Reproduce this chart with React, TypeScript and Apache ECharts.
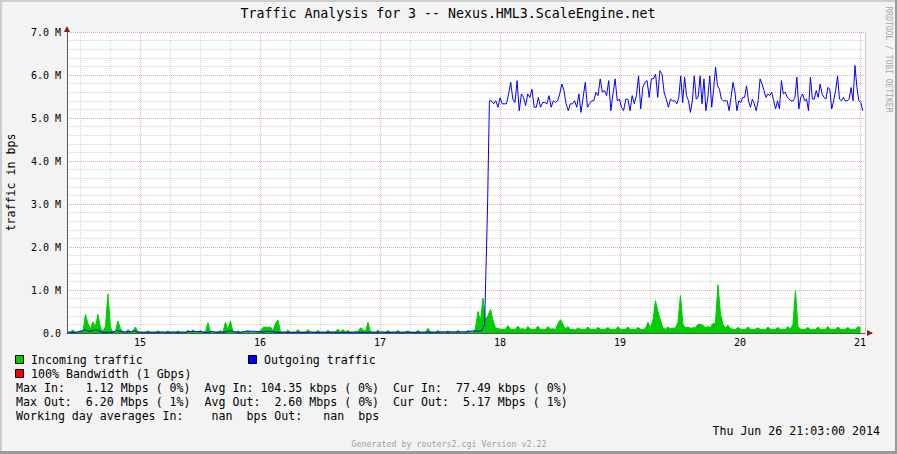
import React, { useEffect, useRef } from "react";
import * as echarts from "echarts";

// ---------- texts ----------
const TITLE = "Traffic Analysis for 3 -- Nexus.HML3.ScaleEngine.net";
const Y_AXIS_NAME = "traffic in bps";
const SIDE_TEXT = "RRDTOOL / TOBI OETIKER";
const LEGEND_IN = "Incoming traffic";
const LEGEND_OUT = "Outgoing traffic";
const LEGEND_BW = "100% Bandwidth (1 Gbps)";
const STAT_LINES = [
  "Max In:   1.12 Mbps ( 0%)  Avg In: 104.35 kbps ( 0%)  Cur In:  77.49 kbps ( 0%)",
  "Max Out:  6.20 Mbps ( 1%)  Avg Out:  2.60 Mbps ( 0%)  Cur Out:  5.17 Mbps ( 1%)",
  "Working day averages In:    nan  bps Out:   nan  bps",
];
const DATE_TEXT = "Thu Jun 26 21:03:00 2014";
const FOOTER = "Generated by routers2.cgi Version v2.22";

// ---------- axes ----------
const DAY_LABELS = [15, 16, 17, 18, 19, 20, 21];
const X_MIN = 14.392;
const X_MAX = 21.042;
const Y_MIN = 0;
const Y_MAX = 7;

// ---------- data (values in Mbps, days of June 2014) ----------
const IN_START = 14.4;
const IN_END = 21.004;
const incomingTraffic = [
  0.02, 0.03, 0.07, 0.02, 0.02, 0.06, 0.03, 0.43, 0.22, 0.1,
  0.26, 0.15, 0.43, 0.12, 0.04, 0.15, 0.91, 0.12, 0.03, 0.04,
  0.28, 0.1, 0.03, 0.02, 0.08, 0.03, 0.04, 0.14, 0.03, 0.02,
  0.02, 0.02, 0.05, 0.02, 0.02, 0.02, 0.05, 0.02, 0.02, 0.02,
  0.05, 0.02, 0.02, 0.02, 0.05, 0.02, 0.02, 0.02, 0.06, 0.03,
  0.07, 0.02, 0.02, 0.06, 0.02, 0.03, 0.24, 0.03, 0.02, 0.02,
  0.03, 0.05, 0.02, 0.25, 0.08, 0.28, 0.03, 0.02, 0.05, 0.02,
  0.02, 0.02, 0.05, 0.02, 0.02, 0.02, 0.03, 0.05, 0.13, 0.14,
  0.13, 0.14, 0.05, 0.22, 0.3, 0.03, 0.02, 0.02, 0.07, 0.02,
  0.02, 0.02, 0.08, 0.02, 0.02, 0.02, 0.08, 0.02, 0.02, 0.02,
  0.06, 0.02, 0.02, 0.02, 0.06, 0.02, 0.02, 0.03, 0.09, 0.02,
  0.08, 0.02, 0.06, 0.02, 0.02, 0.02, 0.03, 0.12, 0.08, 0.03,
  0.25, 0.03, 0.02, 0.02, 0.07, 0.02, 0.02, 0.02, 0.06, 0.02,
  0.02, 0.02, 0.06, 0.02, 0.02, 0.02, 0.05, 0.02, 0.02, 0.02,
  0.06, 0.02, 0.02, 0.02, 0.11, 0.03, 0.02, 0.02, 0.06, 0.02,
  0.02, 0.02, 0.05, 0.02, 0.02, 0.02, 0.06, 0.02, 0.02, 0.02,
  0.06, 0.02, 0.03, 0.1, 0.5, 0.28, 0.81, 0.3, 0.4, 0.55,
  0.3, 0.12, 0.1, 0.09, 0.08, 0.09, 0.17, 0.09, 0.08, 0.09,
  0.16, 0.09, 0.1, 0.08, 0.15, 0.09, 0.08, 0.09, 0.16, 0.08,
  0.09, 0.08, 0.15, 0.09, 0.1, 0.08, 0.22, 0.31, 0.2, 0.09,
  0.15, 0.08, 0.09, 0.07, 0.12, 0.09, 0.08, 0.09, 0.14, 0.08,
  0.09, 0.08, 0.13, 0.09, 0.08, 0.09, 0.13, 0.08, 0.09, 0.08,
  0.15, 0.09, 0.08, 0.09, 0.14, 0.08, 0.09, 0.08, 0.13, 0.09,
  0.08, 0.1, 0.25, 0.12, 0.3, 0.75, 0.5, 0.3, 0.12, 0.09,
  0.14, 0.1, 0.11, 0.12, 0.25, 0.87, 0.2, 0.12, 0.14, 0.11,
  0.12, 0.13, 0.2, 0.2, 0.18, 0.12, 0.15, 0.13, 0.22, 0.22,
  1.12, 0.45, 0.2, 0.12, 0.18, 0.1, 0.09, 0.08, 0.13, 0.09,
  0.08, 0.09, 0.14, 0.09, 0.08, 0.09, 0.12, 0.08, 0.09, 0.08,
  0.14, 0.09, 0.08, 0.09, 0.13, 0.08, 0.09, 0.08, 0.15, 0.09,
  0.2, 0.98, 0.15, 0.09, 0.08, 0.09, 0.13, 0.08, 0.09, 0.08,
  0.14, 0.09, 0.08, 0.09, 0.15, 0.08, 0.09, 0.08, 0.14, 0.09,
  0.08, 0.09, 0.13, 0.08, 0.09, 0.08, 0.15, 0.12,
];

const OUT_PRE_START = 14.405;
const OUT_PRE_END = 17.897;
const outgoingBefore = [
  0.015, 0.015, 0.015, 0.02, 0.03, 0.07, 0.06, 0.04, 0.05, 0.08,
  0.05, 0.02, 0.015, 0.02, 0.015, 0.02, 0.06, 0.04, 0.03, 0.02,
  0.03, 0.03, 0.06, 0.02, 0.015, 0.015, 0.015, 0.02, 0.015, 0.015,
  0.015, 0.025, 0.015, 0.015, 0.015, 0.025, 0.015, 0.015, 0.02, 0.015,
  0.035, 0.03, 0.04, 0.03, 0.035, 0.02, 0.015, 0.02, 0.04, 0.02,
  0.015, 0.03, 0.015, 0.04, 0.05, 0.04, 0.02, 0.015, 0.02, 0.04,
  0.045, 0.04, 0.04, 0.03, 0.03, 0.02, 0.035, 0.04, 0.03, 0.02,
  0.015, 0.015, 0.02, 0.015, 0.015, 0.015, 0.015, 0.02, 0.015, 0.015,
  0.015, 0.025, 0.015, 0.015, 0.015, 0.02, 0.015, 0.015, 0.025, 0.015,
  0.015, 0.015, 0.02, 0.015, 0.015, 0.015, 0.025, 0.015, 0.015, 0.015,
  0.015, 0.02, 0.015, 0.015, 0.015, 0.025, 0.015, 0.015, 0.015, 0.02,
  0.015, 0.015, 0.015, 0.025, 0.015, 0.015, 0.015, 0.02, 0.015, 0.015,
  0.025, 0.015, 0.015, 0.02, 0.02, 0.025, 0.025, 0.02, 0.025, 0.025,
  0.02, 0.03, 0.025, 0.025, 0.04, 0.045, 0.045, 0.045, 0.05, 0.19,
  3.0,
];

const OUT_A_START = 17.912;
const OUT_A_END = 19.439;
const outgoingAfterA = [
  5.40, 5.40, 5.33, 5.40, 5.25, 5.47, 5.33, 5.33, 5.33, 5.56,
  5.83, 5.44, 5.36, 5.87, 5.17, 5.56, 5.48, 5.29, 5.56, 5.48,
  5.67, 5.25, 5.25, 5.48, 5.25, 5.36, 5.36, 5.33, 5.52, 5.25,
  5.40, 5.36, 5.40, 5.56, 5.79, 5.64, 5.33, 5.17, 5.33, 5.33,
  5.40, 5.25, 5.56, 5.13, 5.48, 5.83, 5.25, 5.33, 5.40, 5.40,
  5.60, 5.52, 5.91, 5.60, 5.64, 5.52, 5.87, 5.17, 5.56, 5.91,
  5.40, 5.44, 5.25, 5.17, 5.44, 5.44, 5.17, 5.52, 5.33, 5.52,
  5.98, 5.21, 5.71, 5.83, 5.87, 5.48, 5.91, 5.91, 6.02, 5.48,
  6.10, 6.02, 5.60, 5.44, 5.25, 5.44, 5.40,
];

const OUT_B_START = 19.458;
const OUT_B_END = 21.023;
const outgoingAfterB = [
  5.40, 5.33, 5.48, 5.98, 5.36, 5.95, 5.52, 5.40, 5.13, 5.40,
  5.98, 5.44, 5.48, 5.98, 5.33, 5.91, 5.17, 5.48, 5.98, 5.25,
  5.67, 6.18, 5.75, 5.67, 5.44, 5.40, 5.40, 5.40, 5.17, 5.48,
  5.83, 5.60, 5.17, 5.40, 5.36, 5.48, 5.48, 5.75, 5.40, 5.25,
  5.44, 5.33, 5.17, 5.40, 5.91, 5.79, 5.64, 5.48, 5.56, 5.52,
  5.60, 5.40, 5.21, 5.40, 5.21, 5.87, 5.56, 5.60, 5.48, 5.44,
  5.40, 5.40, 5.48, 5.95, 5.21, 5.48, 5.56, 5.40, 5.44, 5.17,
  5.95, 5.44, 5.44, 5.64, 5.48, 5.79, 5.56, 5.48, 5.44, 5.71,
  5.67, 5.21, 5.40, 5.64, 5.98, 5.44, 5.40, 5.48, 5.40, 5.40,
  5.44, 5.71, 5.40, 6.22, 5.71, 5.40, 5.36, 5.17,
];

// ---------- styling ----------
const MONO = "'DejaVu Sans Mono', monospace";
const BG = "#f3f3f3";
const GREEN = "#00cc00";
const BLUE = "#0000ff";
const RED = "#ff0000";
const GRID_GREY = "#d4d4d4";
const GRID_RED = "#eaa3a3";
const AXIS_COL = "#555555";
const ARROW_COL = "#8b1a1a";
const LEGEND_SIZE = 11.6;
const CW = LEGEND_SIZE * 0.602;

function spread(start: number, end: number, values: number[]): number[][] {
  const n = values.length;
  return values.map((v, i) => [start + (i * (end - start)) / (n - 1), v]);
}

function monoRuns(str: string, x0: number, y: number): any[] {
  const out: any[] = [];
  const re = /\S+(?: \S+)*/g;
  let m: RegExpExecArray | null;
  while ((m = re.exec(str)) !== null) {
    out.push({
      type: "text",
      x: x0 + m.index * CW,
      y,
      silent: true,
      style: {
        text: m[0],
        fontFamily: MONO,
        fontSize: LEGEND_SIZE,
        fill: "#000",
        align: "left",
        verticalAlign: "middle",
      },
    });
  }
  return out;
}

function box(x: number, y: number, color: string) {
  return {
    type: "rect",
    silent: true,
    shape: { x: x + 0.5, y: y + 0.5, width: 8, height: 8 },
    style: { fill: color, stroke: "#000", lineWidth: 1 },
  };
}

export default function App() {
  const ref = useRef<HTMLDivElement>(null);

  useEffect(() => {
    if (!ref.current) return;
    const chart = echarts.init(ref.current, undefined, { renderer: "svg" });

    const inData = spread(IN_START, IN_END, incomingTraffic);
    const outData = [
      ...spread(OUT_PRE_START, OUT_PRE_END, outgoingBefore),
      ...spread(OUT_A_START, OUT_A_END, outgoingAfterA),
      ...spread(OUT_B_START, OUT_B_END, outgoingAfterB),
    ];

    const quarterLines: number[] = [];
    for (let q = Math.ceil(X_MIN * 4); q <= Math.floor(X_MAX * 4); q++) {
      if (q % 4 !== 0) quarterLines.push(q / 4);
    }

    const vLines: any[] = [
      ...quarterLines.map((v) => ({
        xAxis: v,
        lineStyle: { color: GRID_GREY, type: [1, 1], width: 1 },
      })),
      ...DAY_LABELS.map((v) => ({
        xAxis: v,
        lineStyle: { color: GRID_RED, type: [1, 1], width: 1 },
      })),
      { xAxis: X_MAX, lineStyle: { color: "#c8c8c8", type: "solid", width: 1 } },
    ];

    const graphics: any[] = [
      { type: "rect", silent: true, shape: { x: 0, y: 0, width: 897, height: 2 }, style: { fill: "#cdcdcd" } },
      { type: "rect", silent: true, shape: { x: 0, y: 0, width: 2, height: 454 }, style: { fill: "#cdcdcd" } },
      { type: "rect", silent: true, shape: { x: 0, y: 451, width: 897, height: 3 }, style: { fill: "#9a9a9a" } },
      { type: "rect", silent: true, shape: { x: 895, y: 0, width: 2, height: 454 }, style: { fill: "#9a9a9a" } },
      {
        type: "text", x: 448, y: 13.5, silent: true,
        style: { text: TITLE, fontFamily: MONO, fontSize: 13.25, fill: "#000", align: "center", verticalAlign: "middle" },
      },
      {
        type: "text", x: 888, y: 59.5, rotation: -Math.PI / 2, silent: true,
        style: { text: SIDE_TEXT, fontFamily: MONO, fontSize: 8, fill: "#a8a8a8", align: "center", verticalAlign: "middle" },
      },
      { type: "polygon", silent: true, shape: { points: [[64, 32], [70, 32], [67, 26]] }, style: { fill: ARROW_COL } },
      { type: "polygon", silent: true, shape: { points: [[867, 330], [867, 336], [873, 333]] }, style: { fill: ARROW_COL } },
      box(15, 355, GREEN),
      ...monoRuns(LEGEND_IN, 31, 359.5),
      box(248, 355, BLUE),
      ...monoRuns(LEGEND_OUT, 264, 359.5),
      box(15, 369, RED),
      ...monoRuns(LEGEND_BW, 31, 373.5),
      ...monoRuns(STAT_LINES[0], 16, 387.5),
      ...monoRuns(STAT_LINES[1], 16, 401.5),
      ...monoRuns(STAT_LINES[2], 16, 415.5),
      {
        type: "text", x: 880, y: 431, silent: true,
        style: { text: DATE_TEXT, fontFamily: MONO, fontSize: LEGEND_SIZE, fill: "#000", align: "right", verticalAlign: "middle" },
      },
      {
        type: "text", x: 449, y: 443.5, silent: true,
        style: { text: FOOTER, fontFamily: MONO, fontSize: 8.3, fill: "#a0a0a0", align: "center", verticalAlign: "middle" },
      },
    ];

    chart.setOption({
      animation: false,
      backgroundColor: BG,
      grid: {
        left: 67,
        right: 32,
        top: 32,
        bottom: 121,
        containLabel: false,
        outerBoundsMode: "none",
        show: true,
        backgroundColor: "#ffffff",
        borderWidth: 0,
      },
      xAxis: {
        type: "value",
        min: X_MIN,
        max: X_MAX,
        axisLine: { show: true, onZero: false, lineStyle: { color: AXIS_COL, width: 1 } },
        axisTick: { show: false },
        splitLine: { show: false },
        axisLabel: {
          customValues: DAY_LABELS,
          fontFamily: MONO,
          fontSize: 10,
          color: "#000",
          margin: 4,
        },
      },
      yAxis: {
        type: "value",
        min: Y_MIN,
        max: Y_MAX,
        interval: 1,
        name: Y_AXIS_NAME,
        nameLocation: "middle",
        nameRotate: 90,
        nameGap: 50,
        nameTextStyle: { fontFamily: MONO, fontSize: LEGEND_SIZE, color: "#000" },
        axisLine: { show: true, lineStyle: { color: AXIS_COL, width: 1 } },
        axisTick: { show: false },
        minorTick: { show: false, splitNumber: 5 },
        splitLine: { show: true, lineStyle: { color: GRID_RED, type: [1, 1], width: 1 } },
        minorSplitLine: { show: true, lineStyle: { color: GRID_GREY, type: [1, 1], width: 1 } },
        axisLabel: {
          formatter: (v: number) => (v === 0 ? "0.0" : v.toFixed(1) + " M"),
          fontFamily: MONO,
          fontSize: 10,
          color: "#000",
          margin: 6,
        },
      },
      series: [
        {
          type: "line",
          data: [],
          z: 1,
          silent: true,
          markLine: {
            z: 1,
            silent: true,
            symbol: ["none", "none"],
            label: { show: false },
            animation: false,
            data: vLines,
          },
        },
        {
          name: LEGEND_IN,
          type: "line",
          data: inData,
          z: 2,
          silent: true,
          symbol: "none",
          showSymbol: false,
          lineStyle: { color: GREEN, width: 1 },
          areaStyle: { color: GREEN, opacity: 1 },
        },
        {
          name: LEGEND_OUT,
          type: "line",
          data: outData,
          z: 3,
          silent: true,
          symbol: "none",
          showSymbol: false,
          lineStyle: { color: BLUE, width: 1 },
        },
      ],
      graphic: graphics,
    });

    return () => {
      chart.dispose();
    };
  }, []);

  return (
    <div
      ref={ref}
      style={{ position: "fixed", left: 0, top: 0, width: 897, height: 454 }}
    />
  );
}
